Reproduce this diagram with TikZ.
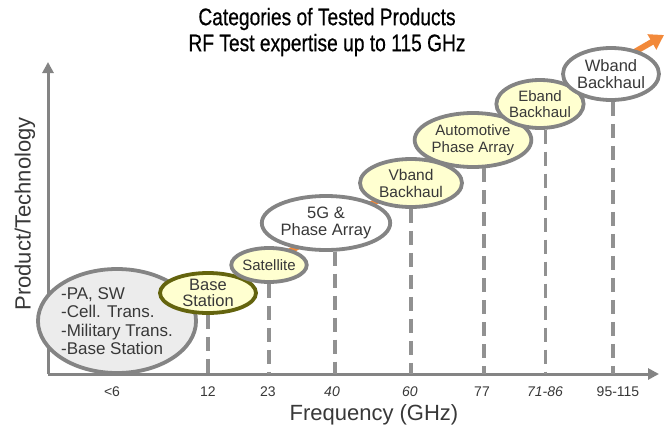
\documentclass[tikz,border=0pt]{standalone}
\usepackage{fontspec}
\setmainfont{Liberation Sans}
\newfontfamily\titlefont{Liberation Sans}[FakeStretch=0.8, FakeBold=0.5]
\definecolor{RingGray}{RGB}{132,132,132}
\definecolor{DashGray}{RGB}{145,145,145}
\definecolor{BandYellow}{RGB}{255,255,208}
\definecolor{CoreGray}{RGB}{236,236,236}
\definecolor{OliveRing}{RGB}{100,100,14}
\definecolor{TrendOrange}{RGB}{242,137,58}
\definecolor{InkGray}{RGB}{56,56,56}
\usetikzlibrary{shapes.geometric, arrows, arrows.meta, positioning}

\begin{document}
\begin{tikzpicture}[x=1pt, y=-1pt]
    \tikzstyle{band} = [ellipse, draw=RingGray, line width=3.8pt, fill=BandYellow,
        inner sep=0pt, text=InkGray, align=center, font=\fontsize{15.5}{17}\selectfont]
    \tikzstyle{open} = [band, fill=white]
    \tikzstyle{axis} = [draw=RingGray, line width=3pt, -{Triangle[length=11pt,width=11pt]}]
    \tikzstyle{drop} = [draw=DashGray, line width=3.5pt, dash pattern=on 14pt off 8pt]
    \tikzstyle{trend} = [draw=TrendOrange, line width=6pt, -{Triangle[length=14pt,width=17pt]}]
    \tikzstyle{tick} = [text=InkGray, font=\fontsize{14}{16}\selectfont]

    \useasboundingbox (0,0) rectangle (665,429);

    \node [font=\titlefont\fontsize{24}{26}\selectfont, align=center] (title) at (327,32)
        {Categories of Tested Products\\RF Test expertise up to 115 GHz};

    \coordinate (origin) at (48,374);
    \coordinate (xend) at (659,374);
    \coordinate (yend) at (48,62);
    \draw [axis] (origin) -- (xend);
    \draw [axis] (origin) -- (yend);

    \node [rotate=90, text=InkGray, font=\fontsize{22}{24}\selectfont] (ylabel) at (25,214) {Product/Technology};
    \node [text=InkGray, font=\fontsize{22}{24}\selectfont] (xlabel) at (374,415) {Frequency (GHz)};

    \coordinate (trendfoot) at (150,332);
    \coordinate (trendtip) at (664,35);
    \draw [trend] (trendfoot) -- (trendtip);

    \node [band, fill=CoreGray, minimum width=132pt, minimum height=104pt, align=left,
        font=\fontsize{17}{18.5}\selectfont] (sub6) at (117,321)
        {-PA, SW\\-Cell. Trans.\\-Military Trans.\\-Base Station};
    \node [band, draw=OliveRing, minimum width=96pt, minimum height=40pt,
        font=\fontsize{16.5}{16.5}\selectfont] (base) at (208,293) {Base\\Station};
    \node [band, minimum width=72pt, minimum height=34pt, font=\fontsize{15}{16}\selectfont] (sat) at (269,265) {Satellite};
    \node [open, minimum width=118pt, minimum height=54pt,
        font=\fontsize{16.5}{17.5}\selectfont] (fiveg) at (326,223) {5G \&\\Phase Array};
    \node [band, minimum width=102pt, minimum height=48pt] (vband) at (411,183) {Vband\\Backhaul};
    \node [band, minimum width=100pt, minimum height=54pt,
        font=\fontsize{15}{16.5}\selectfont] (auto) at (473,140) {Automotive\\Phase Array};
    \node [band, minimum width=86pt, minimum height=48pt,
        font=\fontsize{15}{16.5}\selectfont] (eband) at (540,104) {Eband\\Backhaul};
    \node [open, minimum width=78pt, minimum height=52pt,
        font=\fontsize{16.5}{16.5}\selectfont] (wband) at (611,74) {Wband\\Backhaul};

    \draw [drop] (base.south) -- (base.south |- origin);
    \draw [drop] (sat.south) -- (sat.south |- origin);
    \draw [drop] (fiveg.-73) -- (fiveg.-73 |- origin);
    \draw [drop] (vband.south) -- (vband.south |- origin);
    \draw [drop] (auto.-69) -- (auto.-69 |- origin);
    \draw [drop] (eband.-78) -- (eband.-78 |- origin);
    \draw [drop] (wband.-86) -- (wband.-86 |- origin);

    \node [tick] (f6) at (112,392) {<6};
    \node [tick] (f12) at (208,392) {12};
    \node [tick] (f23) at (268,392) {23};
    \node [tick, font=\fontsize{14}{16}\itshape] (f40) at (332,392) {40};
    \node [tick, font=\fontsize{14}{16}\itshape] (f60) at (410,392) {60};
    \node [tick] (f77) at (482,392) {77};
    \node [tick, font=\fontsize{14}{16}\itshape] (f71) at (545,392) {71-86};
    \node [tick] (f95) at (618,392) {95-115};
\end{tikzpicture}
\end{document}
